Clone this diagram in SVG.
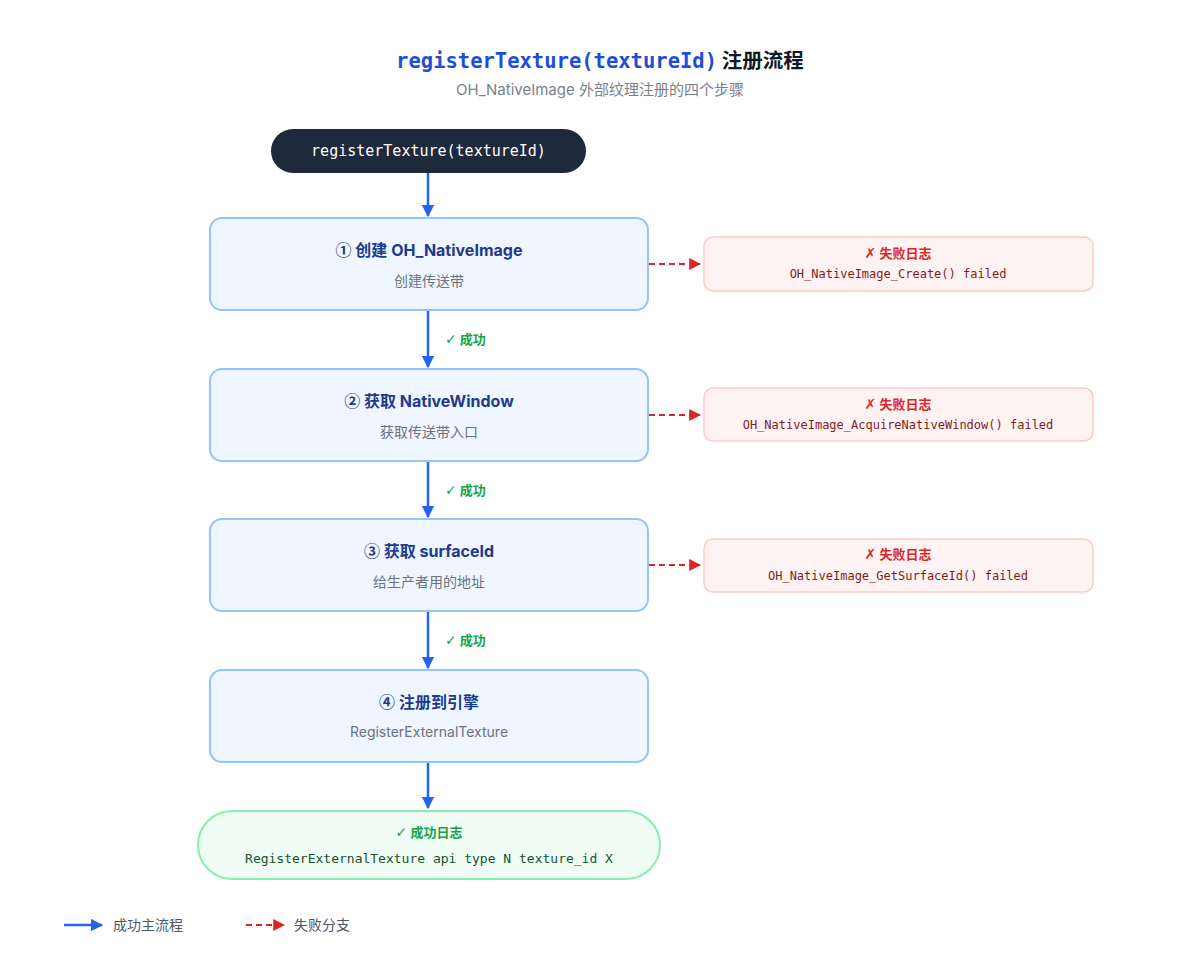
<svg xmlns="http://www.w3.org/2000/svg" width="1200" height="966" viewBox="0 0 1200 966">
<defs>
<marker id="ab" viewBox="0 0 10 10" refX="9" refY="5" markerWidth="5" markerHeight="5" orient="auto" markerUnits="strokeWidth"><path d="M0,0 L10,5 L0,10 z" fill="#2563eb"/></marker>
<marker id="ar" viewBox="0 0 10 10" refX="9" refY="5" markerWidth="6" markerHeight="6" orient="auto" markerUnits="strokeWidth"><path d="M0,0 L10,5 L0,10 z" fill="#dc2626"/></marker>
<style>
.sans{font-family:Inter,"Noto Sans","Noto Sans CJK SC",sans-serif}
.mono{font-family:"DejaVu Sans Mono","Liberation Mono","Noto Sans CJK SC",monospace}
.sym{font-family:"DejaVu Sans",sans-serif;font-weight:400;font-size:14px}
.num{font-family:"Noto Sans CJK SC",sans-serif}
.step{fill:#eff6ff;stroke:#93c5fd;stroke-width:2}
.st{font-size:16px;font-weight:700;fill:#1e3a8a;text-anchor:middle}
.ss{font-size:14px;fill:#6b7280;text-anchor:middle}
.err{fill:#fef2f2;stroke:#fecaca;stroke-width:1.5}
.et{font-size:13px;font-weight:700;fill:#dc2626;text-anchor:middle}
.ec{font-size:12px;fill:#7f1d1d;text-anchor:middle}
.ok{font-size:13px;font-weight:700;fill:#16a34a}
.main{stroke:#2563eb;stroke-width:2.5;fill:none;marker-end:url(#ab)}
.fail{stroke:#dc2626;stroke-width:2;stroke-dasharray:6 4;fill:none;marker-end:url(#ar)}
.lg{font-size:14px;fill:#4b5563}
</style>
</defs>
<rect width="1200" height="966" fill="#ffffff"/>
<g id="title">
<text x="600" y="68" text-anchor="middle" font-size="20.5"><tspan class="mono" fill="#1d4ed8" font-weight="700">registerTexture(textureId)</tspan><tspan class="sans" fill="#111827" font-weight="700"> 注册流程</tspan></text>
<text class="sans" x="600" y="95" text-anchor="middle" font-size="15" fill="#7b818b">OH_NativeImage 外部纹理注册的四个步骤</text>
</g>
<g id="connectors">
<line class="main" x1="428" y1="173" x2="428" y2="216"/>
<line class="main" x1="428" y1="310" x2="428" y2="367"/>
<line class="main" x1="428" y1="461" x2="428" y2="517"/>
<line class="main" x1="428" y1="611" x2="428" y2="668"/>
<line class="main" x1="428" y1="762" x2="428" y2="808"/>
<line class="fail" x1="649" y1="264" x2="700" y2="264"/>
<line class="fail" x1="649" y1="415" x2="700" y2="415"/>
<line class="fail" x1="649" y1="565" x2="700" y2="565"/>
<text class="sans ok" x="445" y="344"><tspan class="sym">✓</tspan> 成功</text>
<text class="sans ok" x="445" y="495"><tspan class="sym">✓</tspan> 成功</text>
<text class="sans ok" x="445" y="645"><tspan class="sym">✓</tspan> 成功</text>
</g>
<g id="start">
<rect x="271" y="129" width="315" height="44" rx="22" fill="#1e293b"/>
<text class="mono" x="428.5" y="156" text-anchor="middle" font-size="15" fill="#ffffff">registerTexture(textureId)</text>
</g>
<g id="step1">
<rect class="step" x="210" y="218" width="438" height="92" rx="12"/>
<text class="sans st" x="429" y="256"><tspan class="num">①</tspan> 创建 OH_NativeImage</text>
<text class="sans ss" x="429" y="286">创建传送带</text>
</g>
<g id="step2">
<rect class="step" x="210" y="369" width="438" height="92" rx="12"/>
<text class="sans st" x="429" y="407"><tspan class="num">②</tspan> 获取 NativeWindow</text>
<text class="sans ss" x="429" y="437">获取传送带入口</text>
</g>
<g id="step3">
<rect class="step" x="210" y="519" width="438" height="92" rx="12"/>
<text class="sans st" x="429" y="557"><tspan class="num">③</tspan> 获取 surfaceId</text>
<text class="sans ss" x="429" y="587">给生产者用的地址</text>
</g>
<g id="step4">
<rect class="step" x="210" y="670" width="438" height="92" rx="12"/>
<text class="sans st" x="429" y="708"><tspan class="num">④</tspan> 注册到引擎</text>
<text class="sans ss" x="429" y="737" font-size="13">RegisterExternalTexture</text>
</g>
<g id="err1">
<rect class="err" x="704" y="237" width="389" height="54" rx="9"/>
<text class="sans et" x="898" y="258"><tspan class="sym">✗</tspan> 失败日志</text>
<text class="mono ec" x="898" y="278">OH_NativeImage_Create() failed</text>
</g>
<g id="err2">
<rect class="err" x="704" y="388" width="389" height="53" rx="9"/>
<text class="sans et" x="898" y="409"><tspan class="sym">✗</tspan> 失败日志</text>
<text class="mono ec" x="898" y="429">OH_NativeImage_AcquireNativeWindow() failed</text>
</g>
<g id="err3">
<rect class="err" x="704" y="539" width="389" height="53" rx="9"/>
<text class="sans et" x="898" y="559"><tspan class="sym">✗</tspan> 失败日志</text>
<text class="mono ec" x="898" y="580">OH_NativeImage_GetSurfaceId() failed</text>
</g>
<g id="success">
<rect x="198" y="811" width="462" height="68" rx="34" fill="#f0fdf4" stroke="#86efac" stroke-width="2"/>
<text class="sans" x="429" y="837" text-anchor="middle" font-size="13" font-weight="700" fill="#16a34a"><tspan class="sym">✓</tspan> 成功日志</text>
<text class="mono" x="429" y="863" text-anchor="middle" font-size="13" fill="#14532d">RegisterExternalTexture api type N texture_id X</text>
</g>
<g id="legend">
<line class="main" x1="64" y1="925" x2="102" y2="925"/>
<text class="sans lg" x="113" y="930">成功主流程</text>
<line class="fail" x1="246" y1="925" x2="284" y2="925"/>
<text class="sans lg" x="294" y="930">失败分支</text>
</g>
</svg>
